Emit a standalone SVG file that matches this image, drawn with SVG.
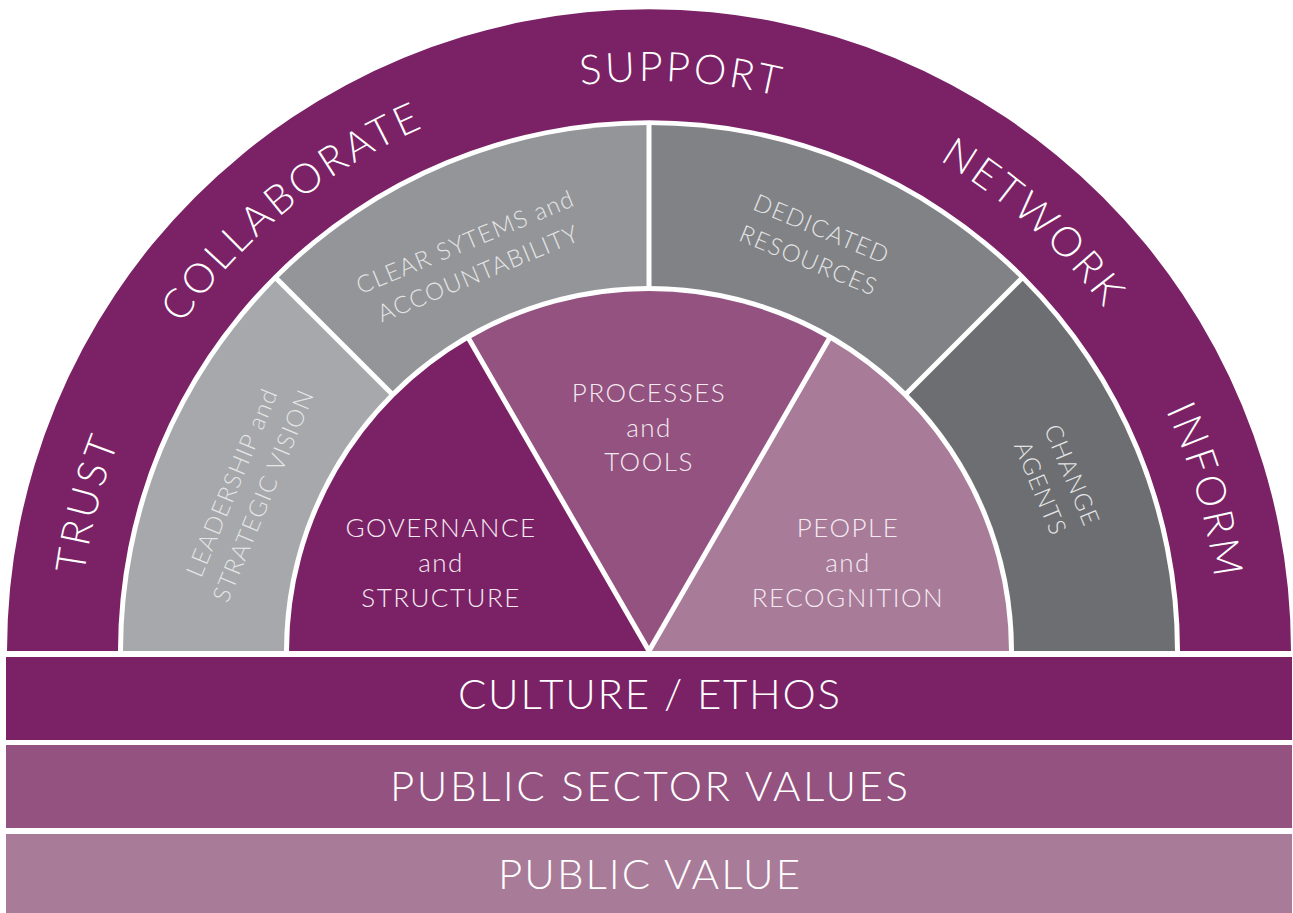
<svg xmlns="http://www.w3.org/2000/svg" width="1293" height="913" viewBox="0 0 1293 913">
<style>
text{font-family:"Lato","Liberation Sans",sans-serif;font-weight:300}
.ring{fill:#ffffff;font-size:41px;letter-spacing:3.2px}
.gt{fill:#e4e5e6;font-size:24px;letter-spacing:1.3px;text-anchor:middle}
.it{fill:#f3eaf1;font-size:26px;letter-spacing:1.5px;text-anchor:middle}
.bt{fill:#ffffff;font-size:42px;text-anchor:middle}
.div{stroke:#ffffff;stroke-width:5;fill:none}
</style>
<defs>
<path id="arc" d="M 79 651 A 570 570 0 0 1 1219 651"/>
</defs>
<rect width="1293" height="913" fill="#ffffff"/>
<g id="outer-ring">
<path d="M 7 651 A 642 642 0 0 1 1291 651 Z" fill="#7b2266"/>
<path d="M 118 651 A 531 531 0 0 1 1180 651 Z" fill="#ffffff"/>
<text class="ring"><textPath href="#arc" startOffset="8.2%" text-anchor="middle">TRUST</textPath></text>
<text class="ring"><textPath href="#arc" startOffset="28.3%" text-anchor="middle">COLLABORATE</textPath></text>
<text class="ring"><textPath href="#arc" startOffset="51.8%" text-anchor="middle">SUPPORT</textPath></text>
<text class="ring"><textPath href="#arc" startOffset="73.3%" text-anchor="middle">NETWORK</textPath></text>
<text class="ring"><textPath href="#arc" startOffset="91.1%" text-anchor="middle">INFORM</textPath></text>
</g>
<g id="leadership">
<path d="M 649 651 L 123 651 A 526 526 0 0 1 277.1 279.1 Z" fill="#a6a8ab"/>
</g>
<g id="clear-systems">
<path d="M 649 651 L 277.1 279.1 A 526 526 0 0 1 649 125 Z" fill="#939598"/>
</g>
<g id="dedicated-resources">
<path d="M 649 651 L 649 125 A 526 526 0 0 1 1020.9 279.1 Z" fill="#808285"/>
</g>
<g id="change-agents">
<path d="M 649 651 L 1020.9 279.1 A 526 526 0 0 1 1175 651 Z" fill="#6d6e71"/>
</g>
<path d="M 284 651 A 365 365 0 0 1 1014 651 Z" fill="#ffffff"/>
<g id="governance">
<path d="M 649 651 L 289 651 A 360 360 0 0 1 469 339.2 Z" fill="#7b2266"/>
</g>
<g id="processes">
<path d="M 649 651 L 469 339.2 A 360 360 0 0 1 829 339.2 Z" fill="#93527f"/>
</g>
<g id="people">
<path d="M 649 651 L 829 339.2 A 360 360 0 0 1 1009 651 Z" fill="#a87b99"/>
</g>
<g id="dividers">
<line class="div" x1="393" y1="395" x2="274.9" y2="276.9"/>
<line class="div" x1="649" y1="289" x2="649" y2="122"/>
<line class="div" x1="905" y1="395" x2="1023.1" y2="276.9"/>
<line class="div" x1="649" y1="651" x2="467.5" y2="336.6"/>
<line class="div" x1="649" y1="651" x2="830.5" y2="336.6"/>
</g>
<g id="labels-gray">
<text class="gt" transform="translate(248,489) rotate(-67.5)"><tspan x="0" y="-9">LEADERSHIP and</tspan><tspan x="0" y="25">STRATEGIC VISION</tspan></text>
<text class="gt" transform="translate(472,258) rotate(-22.5)"><tspan x="0" y="-9">CLEAR SYTEMS and</tspan><tspan x="0" y="25">ACCOUNTABILITY</tspan></text>
<text class="gt" transform="translate(815,245) rotate(22.5)"><tspan x="0" y="-9">DEDICATED</tspan><tspan x="0" y="25">RESOURCES</tspan></text>
<text class="gt" transform="translate(1056,482) rotate(67.5)"><tspan x="0" y="-9">CHANGE</tspan><tspan x="0" y="25">AGENTS</tspan></text>
</g>
<g id="labels-inner">
<text class="it"><tspan x="441" y="537">GOVERNANCE</tspan><tspan x="441" y="572">and</tspan><tspan x="441" y="607">STRUCTURE</tspan></text>
<text class="it"><tspan x="649" y="402">PROCESSES</tspan><tspan x="649" y="437">and</tspan><tspan x="649" y="471">TOOLS</tspan></text>
<text class="it"><tspan x="848" y="537">PEOPLE</tspan><tspan x="848" y="572">and</tspan><tspan x="848" y="607">RECOGNITION</tspan></text>
</g>
<g id="culture-ethos">
<rect x="6" y="657" width="1286" height="83" fill="#7b2266"/>
<text class="bt" x="649" y="709" textLength="382" lengthAdjust="spacing">CULTURE / ETHOS</text>
</g>
<g id="public-sector-values">
<rect x="6" y="745" width="1286" height="83" fill="#93527f"/>
<text class="bt" x="649" y="801" textLength="518" lengthAdjust="spacing">PUBLIC SECTOR VALUES</text>
</g>
<g id="public-value">
<rect x="6" y="834" width="1286" height="79" fill="#a87b99"/>
<text class="bt" x="649" y="889" textLength="302" lengthAdjust="spacing">PUBLIC VALUE</text>
</g>
</svg>
